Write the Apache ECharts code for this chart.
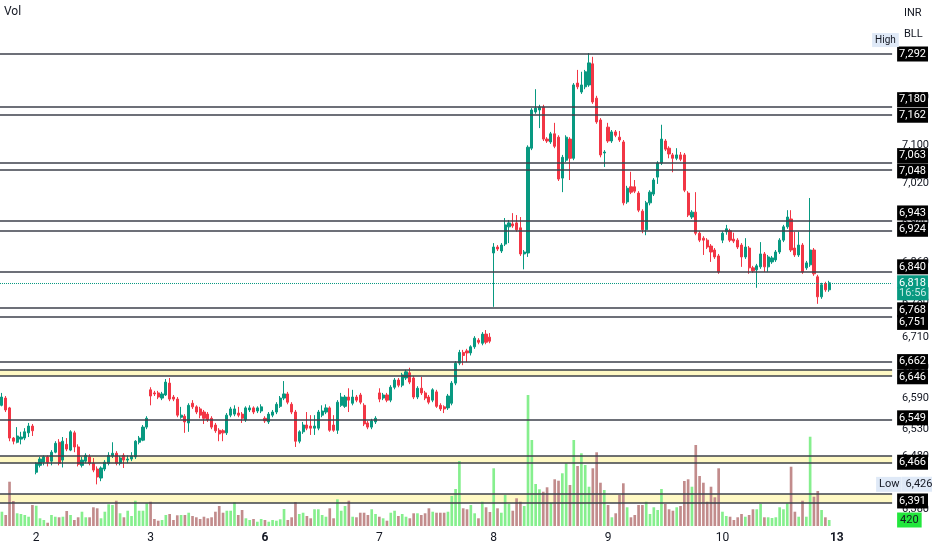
<!DOCTYPE html>
<html>
<head>
<meta charset="UTF-8">
<title>chart</title>
<style>
  html, body { margin: 0; padding: 0; background: #fff; }
  #chart { width: 932px; height: 550px; }
</style>
</head>
<body>
<div id="chart"></div>
<script src="https://cdn.jsdelivr.net/npm/echarts@6/dist/echarts.min.js"></script>
<script>
// day labels on the time axis and the bar where each day starts
var dayLabels = ['2', '3', '6', '7', '8', '9', '10', '13'];
var dayStarts = [9, 39, 69, 99, 129, 159, 189, 219];
var weekStarts = ['6', '13'];
var slotCount = 234; // bars + empty future space

// [open, close, low, high]
var candles = [
  [6577,6593,6575,6601],[6591,6568,6564,6595],[6572,6514,6508,6574],[6514,6508,6502,6516],[6506,6518,6504,6535],
  [6512,6516,6502,6526],[6514,6526,6510,6533],[6524,6537,6516,6543],[6537,6528,6518,6541],
  // 2
  [6449,6466,6445,6468],[6462,6474,6458,6478],[6468,6478,6462,6481],[6478,6468,6460,6481],[6470,6487,6462,6491],
  [6487,6504,6485,6508],[6506,6466,6462,6512],[6472,6508,6458,6516],[6502,6493,6489,6514],[6491,6526,6489,6529],
  [6524,6497,6487,6528],[6497,6464,6460,6502],[6462,6472,6458,6478],[6470,6481,6466,6485],[6478,6466,6462,6483],
  [6466,6453,6449,6476],[6455,6440,6426,6460],[6438,6457,6432,6460],[6455,6468,6451,6472],[6466,6481,6462,6487],
  [6480,6485,6476,6506],[6485,6466,6462,6489],[6466,6476,6462,6480],[6481,6472,6457,6485],[6472,6474,6466,6481],
  [6474,6480,6470,6487],[6478,6508,6474,6510],[6506,6514,6502,6518],[6510,6535,6508,6539],[6535,6552,6531,6556],
  // 3
  [6607,6595,6577,6612],[6601,6599,6595,6605],[6601,6593,6589,6605],[6591,6599,6587,6603],[6597,6622,6595,6628],
  [6620,6589,6585,6630],[6593,6589,6585,6597],[6589,6558,6554,6593],[6554,6558,6551,6574],[6556,6545,6524,6560],
  [6543,6577,6526,6581],[6581,6574,6570,6587],[6574,6564,6560,6577],[6570,6558,6552,6574],[6564,6552,6541,6568],
  [6560,6549,6545,6564],[6552,6535,6531,6556],[6539,6528,6524,6543],[6529,6522,6508,6533],[6528,6524,6508,6531],
  [6524,6558,6520,6562],[6558,6570,6554,6574],[6560,6570,6556,6577],[6562,6558,6554,6574],[6560,6552,6543,6564],
  [6549,6572,6545,6575],[6568,6572,6564,6577],[6572,6564,6560,6575],[6566,6572,6562,6575],[6566,6574,6562,6579],
  // 6
  [6552,6547,6543,6556],[6545,6560,6541,6564],[6558,6564,6554,6568],[6564,6579,6560,6583],[6575,6591,6572,6595],
  [6591,6599,6587,6624],[6599,6583,6579,6603],[6579,6564,6560,6583],[6564,6508,6497,6568],[6508,6526,6504,6529],
  [6526,6539,6522,6545],[6539,6533,6529,6564],[6537,6533,6520,6558],[6533,6537,6520,6558],[6533,6564,6529,6568],
  [6558,6566,6554,6577],[6564,6572,6560,6579],[6572,6529,6526,6575],[6539,6529,6526,6558],[6529,6583,6522,6587],
  [6577,6593,6574,6601],[6575,6593,6572,6597],[6593,6587,6564,6610],[6581,6593,6577,6607],[6593,6587,6583,6597],
  [6597,6583,6579,6601],[6577,6541,6537,6581],[6543,6535,6531,6547],[6535,6547,6531,6551],[6545,6552,6541,6556],
  // 7
  [6601,6589,6583,6610],[6591,6597,6587,6601],[6597,6587,6583,6601],[6587,6612,6583,6616],[6612,6626,6608,6630],
  [6626,6616,6612,6630],[6616,6636,6612,6640],[6630,6642,6626,6646],[6640,6622,6618,6650],[6630,6593,6589,6634],
  [6593,6610,6589,6614],[6610,6601,6597,6632],[6601,6591,6587,6605],[6593,6583,6579,6597],[6587,6607,6583,6610],
  [6603,6575,6572,6607],[6577,6570,6566,6581],[6574,6570,6562,6577],[6572,6595,6568,6599],[6581,6620,6577,6624],
  [6620,6659,6616,6663],[6659,6680,6655,6685],[6680,6674,6655,6685],[6683,6679,6661,6687],[6679,6691,6674,6694],
  [6691,6708,6687,6712],[6704,6700,6696,6708],[6698,6716,6694,6720],[6716,6700,6696,6724],[6710,6702,6698,6718],
  // 8
  [6878,6890,6770,6898],[6890,6886,6882,6894],[6882,6894,6878,6898],[6896,6935,6892,6949],[6931,6939,6898,6945],
  [6937,6933,6929,6959],[6939,6925,6921,6955],[6929,6876,6872,6951],[6876,6880,6845,6884],[6878,7095,6870,7099],
  [7093,7173,7089,7177],[7169,7177,7165,7217],[7173,7179,7135,7184],[7179,7112,7108,7184],[7112,7108,7104,7116],
  [7106,7123,7102,7127],[7123,7097,7093,7146],[7116,7029,7025,7120],[7031,7074,7002,7079],[7068,7116,7064,7120],
  [7112,7072,7027,7116],[7072,7226,7068,7230],[7230,7222,7217,7258],[7211,7226,7207,7254],[7222,7254,7217,7258],
  [7226,7273,7222,7294],[7271,7190,7186,7286],[7198,7148,7144,7203],[7152,7079,7074,7156],[7083,7085,7054,7089],
  // 9
  [7137,7108,7104,7146],[7108,7127,7104,7131],[7127,7120,7116,7131],[7116,7110,7106,7129],[7106,6980,6975,7110],
  [6982,7010,6978,7015],[7013,7002,6998,7044],[7013,7004,7000,7027],[7000,6965,6961,7004],[6963,6925,6918,6967],
  [6925,6980,6914,6984],[6980,7002,6975,7006],[6998,7027,6994,7031],[7033,7062,7019,7066],[7062,7112,7058,7142],
  [7108,7091,7087,7112],[7093,7081,7072,7097],[7079,7072,7043,7083],[7072,7079,7068,7093],[7079,7070,7066,7085],
  [7079,7006,7002,7083],[7000,6955,6951,7004],[6951,6961,6947,6965],[6961,6918,6914,7002],[6918,6904,6900,6922],
  [6908,6904,6874,6912],[6904,6890,6886,6908],[6892,6880,6860,6896],[6884,6870,6866,6888],[6872,6840,6836,6876],
  // 10
  [6904,6918,6898,6922],[6921,6927,6915,6935],[6923,6904,6900,6927],[6906,6902,6898,6919],[6904,6890,6886,6908],
  [6894,6870,6850,6898],[6870,6890,6866,6908],[6888,6848,6836,6892],[6848,6842,6838,6852],[6844,6852,6808,6856],
  [6850,6876,6846,6900],[6876,6850,6840,6880],[6850,6870,6840,6874],[6860,6868,6856,6872],[6864,6880,6860,6884],
  [6880,6904,6876,6908],[6904,6931,6900,6935],[6931,6951,6927,6965],[6947,6884,6880,6965],[6888,6874,6870,6921],
  [6874,6894,6870,6921],[6894,6840,6836,6898],[6848,6858,6844,6862],[6854,6884,6850,6990],[6884,6836,6832,6888],
  [6830,6790,6776,6834],[6790,6814,6786,6818],[6816,6804,6800,6820],[6804,6818,6800,6822]
];

var volumes = [
  1000,770,3100,1750,890,840,770,650,1470,
  1420,540,420,230,770,650,610,650,1050,770,420,610,1000,610,610,1310,1240,540,1000,1520,1470,1770,890,610,1070,700,1770,1070,1070,1590,
  1700,490,370,420,770,840,420,750,770,770,930,700,610,490,650,540,610,1000,1400,930,1070,1070,1660,770,1120,540,420,490,300,490,
  420,300,420,370,470,1190,420,610,1680,840,930,700,540,1170,1170,770,650,1240,540,1870,1070,1400,1770,650,610,930,930,770,1170,840,
  650,540,370,930,1070,700,840,650,540,890,890,770,890,1240,1000,930,930,930,1000,2100,2590,4550,1240,1170,1470,890,540,1700,1310,980,
  4040,1240,930,2170,1540,1070,1940,1700,1400,9170,6020,2940,2570,2400,2710,1630,3270,3170,3690,4390,2870,6020,4200,5090,4270,2750,4040,5160,3030,2520,
  1470,610,890,2170,2990,1310,610,770,1470,1470,1700,840,1310,1120,2590,1540,1170,1070,1310,1400,3150,3270,2750,5670,3500,3030,1700,2750,2010,4040,
  1000,700,650,420,610,840,650,770,1170,1170,1540,610,610,560,610,1310,1170,1590,4150,1000,650,1770,650,6250,2050,2450,1120,610,420
];

// horizontal levels and shaded zones
var levels = [7292, 7180, 7162, 7063, 7048, 6943, 6924, 6840, 6768, 6751, 6662, 6646, 6549, 6466, 6391];
var zones = [[6634, 6646], [6466, 6480], [6391, 6408]];
var priceTicks = [7200, 7100, 7020, 6940, 6860, 6780, 6710, 6650, 6590, 6530, 6480, 6430, 6380];
var countdown = '16:56';

var FONT = "Roboto, 'Liberation Sans', sans-serif";
var UP = '#089981', DOWN = '#f23645';
var VOL_UP = '#86ef8e', VOL_DOWN = '#c28c8c';
var HIDDEN = 'rgba(0,0,0,0)';

// vertical nudge of the right-hand price boxes, so they do not overlap
var labelShift = {7180: -7, 7063: -7, 7048: 1, 6943: -8, 6924: -1, 6840: -5, 6768: 2, 6751: 6, 6646: 7, 6549: -2, 6466: -1, 6391: -2};

function fmt(v) { return v.toLocaleString('en-US'); }
function shiftPad(s) { return s < 0 ? [0, 0, -2 * s, 0] : [2 * s, 0, 0, 0]; }

var categories = [];
for (var i = 0; i < slotCount; i++) categories.push(String(i));

var last = candles[candles.length - 1];
var lastPrice = last[1];
var lastVolume = volumes[volumes.length - 1];
var lowPrice = Math.min.apply(null, candles.map(function (c) { return c[2]; }));
var highPrice = Math.max.apply(null, candles.map(function (c) { return c[3]; }));

var volData = volumes.map(function (v, i) {
  return { value: v, itemStyle: { color: candles[i][1] >= candles[i][0] ? VOL_UP : VOL_DOWN } };
});

var rich = {
  box: { backgroundColor: '#000', color: '#fff', fontSize: 11, fontFamily: FONT, padding: [2, 2, 2, 2], lineHeight: 12 },
  cur: { backgroundColor: UP, color: '#fff', fontSize: 11, fontFamily: FONT, padding: [2, 2, 0, 2], lineHeight: 12 },
  curT: { backgroundColor: UP, color: '#c8ece6', fontSize: 11, fontFamily: FONT, padding: [0, 2, 2, 2], lineHeight: 12 },
  hi: { backgroundColor: '#dfe9f7', color: '#131722', fontSize: 10, fontFamily: FONT, padding: [2, 3, 2, 3], lineHeight: 11 },
  lo: { backgroundColor: '#dfe9f7', color: '#131722', fontSize: 11, fontFamily: FONT, padding: [2, 2, 2, 3], lineHeight: 12 },
  lv: { backgroundColor: '#dfe9f7', color: '#131722', fontSize: 11, fontFamily: FONT, padding: [2, 2, 2, 4], lineHeight: 12 },
  vol: { backgroundColor: '#22e63c', color: '#131722', fontSize: 11, fontFamily: FONT, padding: [2, 3, 2, 3], lineHeight: 12 }
};

var lineData = [];
levels.forEach(function (p) {
  lineData.push({ yAxis: p, label: { formatter: '{box|' + fmt(p) + '}', padding: shiftPad(labelShift[p] || 0) } });
});
zones.forEach(function (z) {
  z.forEach(function (p) {
    if (levels.indexOf(p) < 0) lineData.push({ yAxis: p, label: { show: false } });
  });
});
lineData.push({
  yAxis: lastPrice,
  lineStyle: { type: 'dotted', color: UP, width: 1 },
  label: { formatter: '{cur|' + fmt(lastPrice) + '}\n{curT|' + countdown + '}', padding: shiftPad(5) }
});
lineData.push({
  yAxis: highPrice, lineStyle: { color: HIDDEN, width: 0 },
  label: { formatter: '{hi|High}', distance: -20, padding: shiftPad(-13) }
});
lineData.push({
  yAxis: lowPrice, lineStyle: { color: HIDDEN, width: 0 },
  label: { formatter: '{lo|Low}{lv|' + fmt(lowPrice) + '}', distance: -16 }
});

var chart = echarts.init(document.getElementById('chart'), null, { renderer: 'canvas' });
chart.setOption({
  animation: false,
  backgroundColor: '#fff',
  grid: { left: -1.3, right: 39.4, top: 0, bottom: 24 },
  xAxis: {
    type: 'category',
    data: categories,
    boundaryGap: true,
    axisLine: { show: false },
    axisTick: { show: false },
    splitLine: { show: false },
    axisLabel: {
      margin: 6,
      color: '#131722',
      fontSize: 12,
      fontFamily: FONT,
      interval: function (idx) { return dayStarts.indexOf(idx) >= 0; },
      formatter: function (val, idx) {
        var k = dayStarts.indexOf(idx);
        if (k < 0) return '';
        var t = dayLabels[k];
        return weekStarts.indexOf(t) >= 0 ? '{b|' + t + '}' : t;
      },
      rich: { b: { fontWeight: 'bold', fontSize: 12, fontFamily: FONT, color: '#131722' } }
    }
  },
  yAxis: [
    {
      type: 'log',
      logBase: 10,
      position: 'right',
      min: 6347.9,
      max: 7408.6,
      axisLine: { show: false },
      axisTick: { show: false },
      splitLine: { show: false },
      axisLabel: {
        customValues: priceTicks,
        margin: 10,
        color: '#131722',
        fontSize: 11,
        fontFamily: FONT,
        formatter: function (v) { return fmt(Math.round(v)); }
      }
    },
    {
      type: 'value',
      min: 0,
      max: 36820,
      show: false
    }
  ],
  series: [
    {
      type: 'bar',
      yAxisIndex: 1,
      barWidth: '70%',
      data: volData,
      z: 2,
      clip: false,
      silent: true,
      markLine: {
        silent: true,
        symbol: ['none', 'none'],
        lineStyle: { color: HIDDEN, width: 0 },
        label: { position: 'end', distance: 5, rich: rich },
        data: [{ yAxis: lastVolume, label: { formatter: '{vol|' + lastVolume + '}' } }]
      }
    },
    {
      type: 'candlestick',
      yAxisIndex: 0,
      barWidth: '70%',
      data: candles,
      z: 4,
      clip: false,
      silent: true,
      itemStyle: { color: UP, color0: DOWN, borderColor: UP, borderColor0: DOWN, borderWidth: 1 },
      markArea: {
        silent: true,
        itemStyle: { color: 'rgba(255, 235, 59, 0.3)' },
        data: zones.map(function (z) { return [{ yAxis: z[0] }, { yAxis: z[1] }]; })
      },
      markLine: {
        silent: true,
        symbol: ['none', 'none'],
        lineStyle: { color: '#3c404b', width: 1.5, type: 'solid' },
        label: { position: 'end', distance: 5, rich: rich },
        data: lineData
      }
    }
  ],
  graphic: [
    { type: 'text', left: 4, top: 6, style: { text: 'Vol', fill: '#131722', font: '12px ' + FONT } },
    { type: 'text', left: 904, top: 8, style: { text: 'INR', fill: '#131722', font: '11px ' + FONT } },
    { type: 'text', left: 904, top: 29, style: { text: 'BLL', fill: '#131722', font: '11px ' + FONT } }
  ]
});
</script>
</body>
</html>
